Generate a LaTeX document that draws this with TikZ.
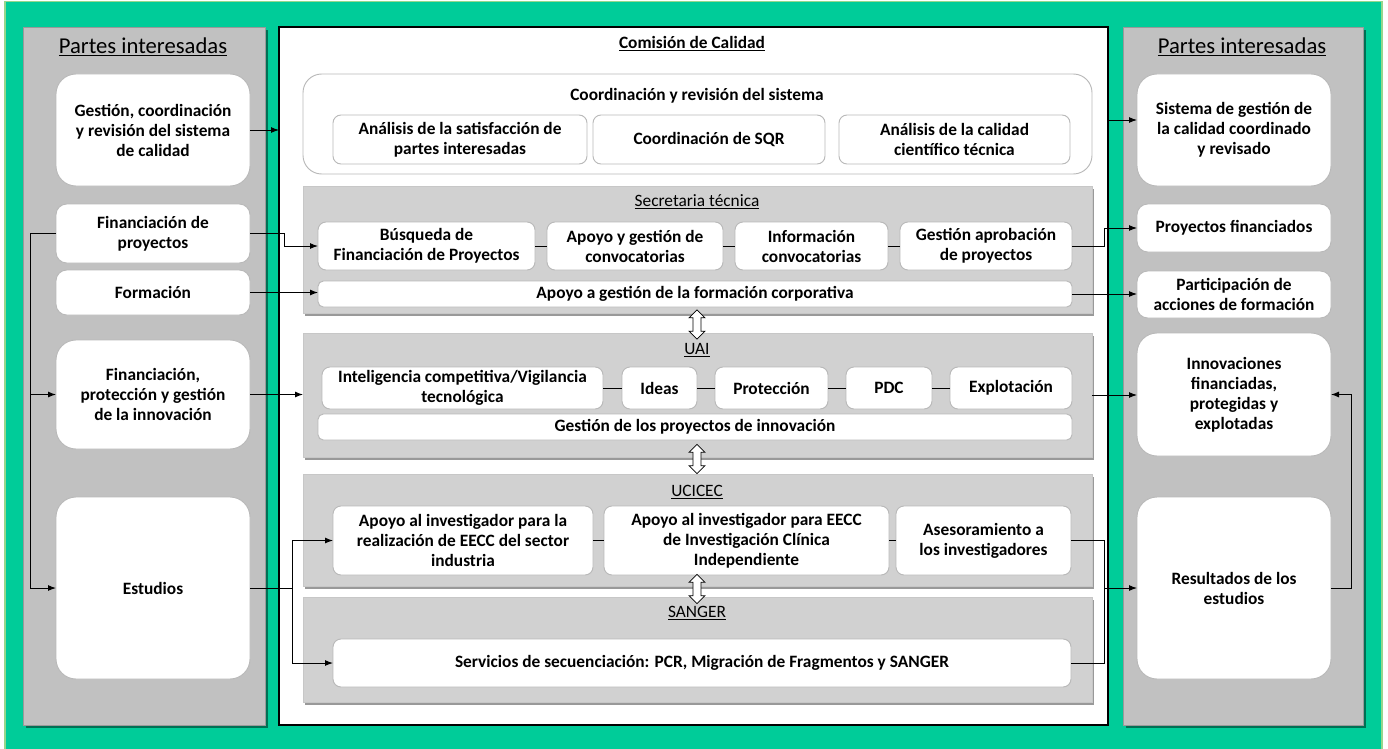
\documentclass[tikz,border=0pt]{standalone}
\usepackage{fontspec}
\setmainfont{Carlito}
\usetikzlibrary{arrows.meta,shapes.arrows,shadows,calc}
\definecolor{bggreen}{RGB}{0,204,153}
\definecolor{edgegreen}{RGB}{150,215,140}
\definecolor{panelgray}{RGB}{193,193,193}
\definecolor{groupgray}{RGB}{209,209,209}
\definecolor{boxline}{RGB}{185,185,185}

% \bx{style}{name}{x1}{y1}{x2}{y2}{text}: box given by its corners (pixel grid)
\newcommand\bx[7]{%
  \pgfmathsetmacro\bxcx{(#3+#5)/2}%
  \pgfmathsetmacro\bxcy{(#4+#6)/2}%
  \pgfmathsetmacro\bxw{(#5-#3)*0.75}%
  \pgfmathsetmacro\bxh{(#6-#4)*0.75}%
  \node[#1,minimum width=\bxw pt,minimum height=\bxh pt] (#2) at (\bxcx,\bxcy) {#7};}

\tikzset{
  base/.style={inner sep=0pt,outer sep=0pt,align=center,
    font=\bfseries\fontsize{13}{15}\selectfont},
  panel/.style={base,fill=panelgray,draw=black!40,line width=0.4pt,
    drop shadow={shadow xshift=2pt,shadow yshift=-2pt,opacity=.45,fill=black}},
  centre/.style={base,fill=white,draw=black,line width=0.9pt},
  bigbox/.style={base,fill=white,draw=boxline,line width=0.7pt,rounded corners=15pt},
  smallbox/.style={base,fill=white,draw=boxline,line width=0.7pt,rounded corners=8pt},
  coordbox/.style={base,fill=white,draw=boxline,line width=0.7pt,rounded corners=14pt},
  inbox/.style={base,fill=white,draw=boxline,line width=0.7pt,rounded corners=6pt},
  barbox/.style={base,fill=white,draw=boxline,line width=0.7pt,rounded corners=4pt},
  group/.style={base,fill=groupgray,draw=boxline!80,line width=0.5pt,
    drop shadow={shadow xshift=1.5pt,shadow yshift=-2.5pt,opacity=.4,fill=black}},
  ptitle/.style={inner sep=0pt,font=\fontsize{17}{20}\selectfont},
  gtitle/.style={inner sep=0pt,font=\fontsize{13}{15}\selectfont},
  ctitle/.style={inner sep=0pt,font=\bfseries\fontsize{13}{15}\selectfont},
  ctext/.style={inner sep=0pt,font=\bfseries\fontsize{13}{15}\selectfont},
  arr/.style={draw=black,line width=0.75pt,-{Latex[length=6pt,width=4.5pt]}},
  link/.style={draw=black,line width=0.7pt},
  dblarrow/.style={double arrow,draw=black,fill=white,line width=0.6pt,
    shape border rotate=90,minimum height=22pt,minimum width=11.5pt,
    inner sep=2.7pt,double arrow head extend=3pt}
}

\begin{document}
\begin{tikzpicture}[x=0.75pt,y=-0.75pt]
\useasboundingbox (0,0) rectangle (1388,749);
\fill[white] (0,0) rectangle (1388,749);
\begin{scope}
\clip (0,0) rectangle (1388,749);
\fill[bggreen,draw=edgegreen,line width=0.8pt] (5,1.5) rectangle (1382,770);
\end{scope}

% outer columns and the committee frame
\bx{panel}{lp}{23}{27}{265}{725}{}
\bx{panel}{rp}{1123}{27}{1363}{725}{}
\bx{centre}{com}{279}{27}{1108}{725}{}

\node[ptitle] (lpt) at (143,47) {\underline{Partes interesadas}};
\node[ptitle] (rpt) at (1242,47) {\underline{Partes interesadas}};
\node[ctitle] (comt) at (692,44) {\underline{Comisión de Calidad}};

% inputs
\bx{bigbox}{l1}{56}{74}{250}{186}{Gestión, coordinación\\y revisión del sistema\\de calidad}
\bx{smallbox}{l2}{56}{204}{250}{263}{Financiación de\\proyectos}
\bx{smallbox}{l3}{56}{270}{250}{315}{Formación}
\bx{bigbox}{l4}{56}{340}{250}{449}{Financiación,\\protección y gestión\\de la innovación}
\bx{bigbox}{l5}{56}{497}{250}{679}{Estudios}

% outputs
\bx{bigbox}{r1}{1137}{74}{1331}{186}{Sistema de gestión de\\la calidad coordinado\\y revisado}
\bx{smallbox}{r2}{1137}{204}{1331}{252}{Proyectos financiados}
\bx{smallbox}{r3}{1137}{271}{1331}{318}{Participación de\\acciones de formación}
\bx{bigbox}{r4}{1137}{333}{1331}{456}{Innovaciones\\financiadas,\\protegidas y\\explotadas}
\bx{bigbox}{r5}{1137}{497}{1331}{679}{Resultados de los\\estudios}

% coordination of the system
\bx{coordbox}{crd}{303}{74}{1092}{174}{}
\node[ctext] (crdt) at (697,96) {Coordinación y revisión del sistema};
\bx{inbox}{c1}{333}{115}{587}{164}{Análisis de la satisfacción de\\partes interesadas}
\bx{inbox}{c2}{593}{115}{825}{164}{Coordinación de SQR}
\bx{inbox}{c3}{839}{115}{1070}{164}{Análisis de la calidad\\científico técnica}

% technical secretariat
\bx{group}{sec}{303}{186}{1092}{313}{}
\node[gtitle] (sect) at (697,202) {\underline{Secretaria técnica}};
\bx{inbox}{s1}{318}{222}{535}{270}{Búsqueda de\\Financiación de Proyectos}
\bx{inbox}{s2}{547}{222}{723}{270}{Apoyo y gestión de\\convocatorias}
\bx{inbox}{s3}{735}{222}{888}{270}{Información\\convocatorias}
\bx{inbox}{s4}{900}{222}{1072}{270}{Gestión aprobación\\de proyectos}
\bx{barbox}{s5}{318}{281}{1072}{307}{Apoyo a gestión de la formación corporativa}

% UAI
\bx{group}{uai}{303}{333}{1092}{457}{}
\node[gtitle] (uait) at (697,350) {\underline{UAI}};
\bx{inbox}{u1}{322}{367}{603}{409}{Inteligencia competitiva/Vigilancia\\tecnológica}
\bx{inbox}{u2}{622}{367}{697}{409}{Ideas}
\bx{inbox}{u3}{715}{367}{828}{409}{Protección}
\bx{inbox}{u4}{846}{367}{932}{409}{PDC}
\bx{inbox}{u5}{950}{367}{1072}{409}{Explotación}
\bx{barbox}{u6}{318}{414}{1072}{440}{Gestión de los proyectos de innovación}

% UCICEC
\bx{group}{uci}{303}{474}{1092}{586}{}
\node[gtitle] (ucit) at (697,492) {\underline{UCICEC}};
\bx{inbox}{k1}{333}{506}{593}{575}{Apoyo al investigador para la\\realización de EECC del sector\\industria}
\bx{inbox}{k2}{604}{506}{889}{575}{Apoyo al investigador para EECC\\de Investigación Clínica\\Independiente}
\bx{inbox}{k3}{896}{506}{1071}{575}{Asesoramiento a\\los investigadores}

% SANGER
\bx{group}{san}{303}{597}{1092}{702}{}
\node[gtitle] (sant) at (697,613) {\underline{SANGER}};
\bx{inbox}{g1}{333}{639}{1071}{687}{Servicios de secuenciación: PCR, Migración de Fragmentos y SANGER}

% links between units
\node[dblarrow] (d1) at (697,324.5) {};
\node[dblarrow] (d2) at (697,459) {};
\node[dblarrow] (d3) at (697,589) {};

% links inside the rows
\draw[link] (s1.east) -- (s2.west);
\draw[link] (s2.east) -- (s3.west);
\draw[link] (s3.east) -- (s4.west);
\draw[link] (u1.east) -- (u2.west);
\draw[link] (u2.east) -- (u3.west);
\draw[link] (u3.east) -- (u4.west);
\draw[link] (u4.east) -- (u5.west);
\draw[link] (k1.east) -- (k2.west);
\draw[link] (k2.east) -- (k3.west);

% inputs into the committee
\draw[arr] (l1.east) -- (l1.east -| com.west);
\draw[arr] (l2.east) -- ++(34,0) |- (s1.west);
\draw[arr] (l3.east) -- (l3.east -| s5.west);
\draw[arr] (l4.east) -- (l4.east -| uai.west);
\draw[line width=0.75pt] (l5.east) -- ++(42,0) coordinate (sj);
\draw[arr] (sj) |- (k1.west);
\draw[arr] (sj) |- (g1.west);

% left bus
\draw[line width=0.75pt] (l2.west) -- ++(-26,0) coordinate (lb);
\draw[arr] (lb) |- (l5.west);
\draw[arr] (lb |- l4.west) -- (l4.west);

% outputs
\coordinate (r1in) at (1137,120);
\draw[arr] (r1in -| com.east) -- (r1in);
\draw[arr] (s4.east) -- ++(32,0) |- (r2.west);
\draw[arr] (s5.east) -- (s5.east -| r3.west);
\draw[arr] (uai.east) -- (uai.east -| r4.west);
\draw[line width=0.75pt] (k3.east) -- ++(33,0) coordinate (rj) |- (g1.east);
\draw[arr] (rj |- r5.west) -- (r5.west);
\draw[arr] (r5.east) -- ++(20,0) |- (r4.east);
\end{tikzpicture}
\end{document}
